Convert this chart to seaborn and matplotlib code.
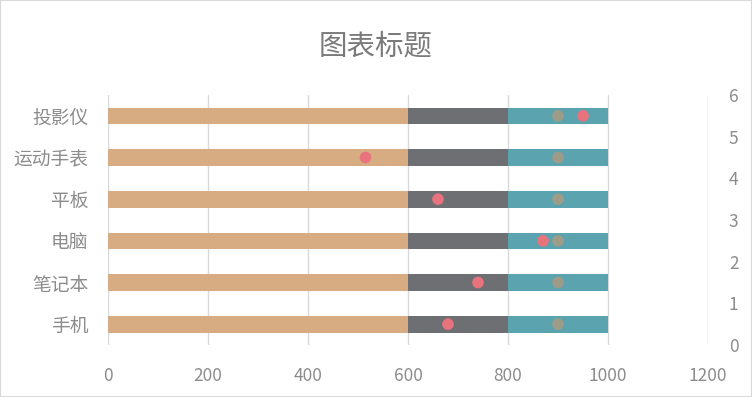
import matplotlib
matplotlib.use("Agg")
import matplotlib.pyplot as plt
import seaborn as sns
import pandas as pd
from matplotlib.patches import Rectangle

sns.set_theme(style="white")
plt.rcParams['font.family'] = ['Noto Sans CJK SC', 'DejaVu Sans']

# data
categories = ['手机', '笔记本', '电脑', '平板', '运动手表', '投影仪']
band_low = [600, 600, 600, 600, 600, 600]
band_mid = [200, 200, 200, 200, 200, 200]
band_high = [200, 200, 200, 200, 200, 200]
actual = [680, 740, 870, 660, 515, 950]
target = [900, 900, 900, 900, 900, 900]
dot_pos = [0.5, 1.5, 2.5, 3.5, 4.5, 5.5]

df = pd.DataFrame({'cat': categories, 'low': band_low, 'mid': band_mid, 'high': band_high})
df['c1'] = df['low']
df['c2'] = df['low'] + df['mid']
df['c3'] = df['c2'] + df['high']

TXT = '#8c8c8c'
GRID = '#d9d9d9'

fig = plt.figure(figsize=(7.52, 3.97), dpi=100)
ax = fig.add_axes([108/752, 1-345/397, 600/752, 250/397])

# stacked bars drawn back-to-front as cumulative totals
for col, color in [('c3', '#5ba3ae'), ('c2', '#6d6f73'), ('c1', '#d8ac82')]:
    sns.barplot(data=df, x=col, y='cat', order=categories, orient='h',
                color=color, width=0.4, saturation=1, linewidth=0,
                ax=ax, zorder=2)

ax.set_ylim(-0.5, 5.5)
ax.set_xlim(0, 1200)
ax.set_xticks(range(0, 1201, 200))
ax.grid(axis='x', color=GRID, linewidth=1, zorder=0)
ax.set_axisbelow(True)
for s in ax.spines.values():
    s.set_visible(False)
ax.set_xlabel('')
ax.set_ylabel('')
ax.tick_params(axis='x', colors=TXT, labelsize=12.5, length=0, pad=16)
ax.tick_params(axis='y', colors=TXT, labelsize=13.5, length=0, pad=14)
for lab in ax.get_xticklabels() + ax.get_yticklabels():
    lab.set_fontweight('light')

# markers on secondary axis
ax2 = ax.twinx()
pts = pd.DataFrame({'x': target + actual, 'y': dot_pos + dot_pos,
                    'kind': ['target'] * 6 + ['actual'] * 6})
sns.scatterplot(data=pts, x='x', y='y', hue='kind',
                palette={'target': '#9d9c88', 'actual': '#e8737d'},
                s=70, edgecolor='none', legend=False, ax=ax2, zorder=3)
ax2.set_ylim(0, 6)
ax2.set_yticks(range(0, 7))
ax2.set_xlim(0, 1200)
ax2.set_ylabel('')
for s in ax2.spines.values():
    s.set_visible(False)
ax2.tick_params(axis='y', colors=TXT, labelsize=12.5, length=0, pad=15)
for lab in ax2.get_yticklabels():
    lab.set_fontweight('light')

fig.text(0.5, 1-46/397, '图表标题', ha='center', va='center', fontsize=20.5,
         color='#7a7a7a', fontweight='light')
fig.patches.append(Rectangle((0, 0), 1, 1, transform=fig.transFigure, fill=False,
                             edgecolor=GRID, linewidth=1.5))

fig.savefig('out.png', dpi=100)
